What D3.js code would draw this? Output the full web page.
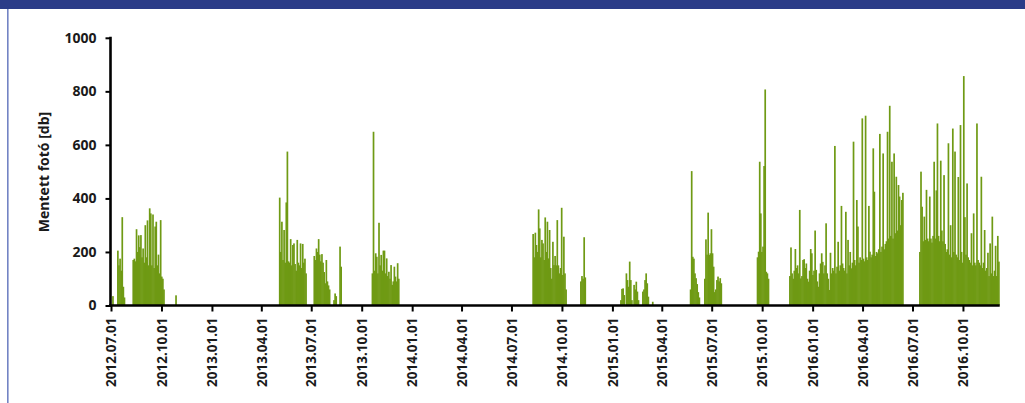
<!DOCTYPE html>
<html><head><meta charset="utf-8">
<script src="https://cdn.jsdelivr.net/npm/d3@7/dist/d3.min.js"></script>
<style>
body{margin:0;background:#fff;}
svg{display:block;}
text{font-family:"Open Sans",sans-serif;font-weight:700;fill:#1a1a1a;}
</style>
</head><body>
<svg id="chart" width="1025" height="403"></svg>
<script>
// ---- data ----
const binDays = 2; // each value covers 2 days
const xTickLabels = ["2012.07.01","2012.10.01","2013.01.01","2013.04.01","2013.07.01","2013.10.01",
  "2014.01.01","2014.04.01","2014.07.01","2014.10.01","2015.01.01","2015.04.01","2015.07.01",
  "2015.10.01","2016.01.01","2016.04.01","2016.07.01","2016.10.01"];
const yTicks = [0,200,400,600,800,1000];
const yTitle = "Mentett fotó [db]";

const s2012a = [35];
const s2012b = [205,150,175,130,330,70,30];
const s2012c = [170,175,165,285,200,262,218,263,180,213,160,300,180,318,150,363,344,150,340,140,295,313,150,190,120,319,108,100,60];
const s2012d = [38];
const s2013a = [403,200,313,170,282,160,385,575,165,160,248,150,226,232,155,130,245,160,150,232,140,230,160,175,120];
const s2013b = [185,170,213,200,248,190,165,192,160,125,83,170,90,75,60];
const s2013c = [20,45,35];
const s2013d = [220,145];
const s2013e = [120,649,130,195,182,120,309,150,189,130,205,205,120,176,110,126,100,151,77,90,145,108,90,158,100];
const s2014a = [267,180,272,226,200,359,288,180,245,232,170,329,200,313,176,282,140,100,238,151,185,150,319,150,120,140,365,114,257,120,60];
const s2014b = [90,110,100,255,105];
const s2015a = [20,62,64,39,0,120,95,70,164,95,20,0,77,60,89,52,20,0,0,0,52,60,95,120,83,33,0,0,0,14];
const s2015b = [60,502,182,175,120,102,80,50,30];
const s2015c = [100,247,190,347,189,195,285,195,145,50,60,95,108,90,102,83];
const s2015d = [180,201,537,344,200,220,521,807,126,120,100];
const s2015e = [110,217,120,100,130,211,140,150,120,357,101,110,170,173,140,157,100,89,130,211,
  195,114,130,280,133,90,70,120,157,195,163,120,150,307,120,100,58,197,120,140,
  130,596,120,145,238,130,150,372,157,140,130,350,120,245,150,200,139,160,612,170,
  150,394,295,160,180,170,699,175,165,709,180,170,372,201,180,190,587,425,185,200,
  195,210,641,200,220,568,210,230,240,649,250,746,260,537,250,568,270,481,280,450,
  407,300,394,421];
const s2016a = [200,500,369,240,332,245,432,250,240,407,250,235,260,537,250,430,680,260,240,541,
  280,240,487,230,200,210,606,190,300,180,661,200,575,190,180,480,170,674,200,160,
  857,330,190,456,180,170,160,270,150,344,160,150,680,170,160,150,481,140,160,282,
  130,140,197,110,232,120,332,110,130,223,110,260,164];

const segmentStarts = ["2012-07-03","2012-07-12","2012-08-09","2012-10-26","2013-05-03","2013-07-05",
  "2013-08-10","2013-08-21","2013-10-19","2014-08-08","2014-11-03","2015-01-15","2015-05-22",
  "2015-06-17","2015-09-21","2015-11-19","2016-07-13"];
const segmentValues = [s2012a,s2012b,s2012c,s2012d,s2013a,s2013b,s2013c,s2013d,s2013e,
  s2014a,s2014b,s2015a,s2015b,s2015c,s2015d,s2015e,s2016a];

// ---- chart ----
const svg = d3.select("#chart");
const parseISO = d3.utcParse("%Y-%m-%d");
const parseTick = d3.utcParse("%Y.%m.%d");

const x = d3.scaleUtc()
  .domain([parseISO("2012-07-01"), parseISO("2016-12-07")])
  .range([111, 999.7]);
const y = d3.scaleLinear().domain([0,1000]).range([305.5, 37.8]);

// frame decorations
svg.append("rect").attr("x",0).attr("y",0).attr("width",1025).attr("height",9).attr("fill","#2b3c88");
svg.append("rect").attr("x",7).attr("y",9).attr("width",1.6).attr("height",394).attr("fill","#7384c4");

// bars
const bars = [];
segmentStarts.forEach((s,i)=>{
  const start = parseISO(s);
  segmentValues[i].forEach((v,k)=>{
    const d0 = d3.utcDay.offset(start, k*binDays);
    const d1 = d3.utcDay.offset(start, (k+1)*binDays);
    bars.push({d0,d1,v});
  });
});
svg.append("g").selectAll("rect").data(bars.filter(b=>b.v>0)).join("rect")
  .attr("x", b=>x(b.d0))
  .attr("width", b=>x(b.d1)-x(b.d0)+0.6)
  .attr("y", b=>y(b.v))
  .attr("height", b=>y(0)-y(b.v))
  .attr("fill","#6f9a14");

// y axis
const yAxis = svg.append("g").attr("transform","translate(110.5,0)")
  .call(d3.axisLeft(y).tickValues(yTicks).tickSize(5).tickPadding(9).tickFormat(d3.format("d")));
yAxis.select(".domain").remove();
yAxis.selectAll(".tick line").attr("stroke","#000").attr("stroke-width",2);
yAxis.selectAll(".tick text").attr("font-size",14).attr("font-family","Open Sans").attr("font-weight",700).attr("fill","#1a1a1a");
svg.append("line").attr("x1",110.5).attr("x2",110.5).attr("y1",y(1000)-1).attr("y2",y(0)+1.5)
  .attr("stroke","#000").attr("stroke-width",2.6);

// x axis
const xTicks = xTickLabels.map(t=>parseTick(t));
const xAxis = svg.append("g").attr("transform",`translate(0,${y(0)})`)
  .call(d3.axisBottom(x).tickValues(xTicks).tickSize(6).tickFormat((d,i)=>xTickLabels[i]));
xAxis.select(".domain").remove();
xAxis.selectAll(".tick line").attr("stroke","#000").attr("stroke-width",2);
xAxis.selectAll(".tick text")
  .attr("font-size",13.5).attr("font-family","Open Sans").attr("font-weight",700).attr("fill","#1a1a1a")
  .attr("text-anchor","end")
  .attr("transform","rotate(-90)")
  .attr("x",-12).attr("y",0).attr("dy","0.35em");
svg.append("line").attr("x1",109).attr("x2",999.7).attr("y1",y(0)).attr("y2",y(0))
  .attr("stroke","#000").attr("stroke-width",2.6);

// y title
svg.append("text").attr("transform","translate(49,172) rotate(-90)")
  .attr("text-anchor","middle").attr("font-size",14).text(yTitle);
</script>
</body></html>
